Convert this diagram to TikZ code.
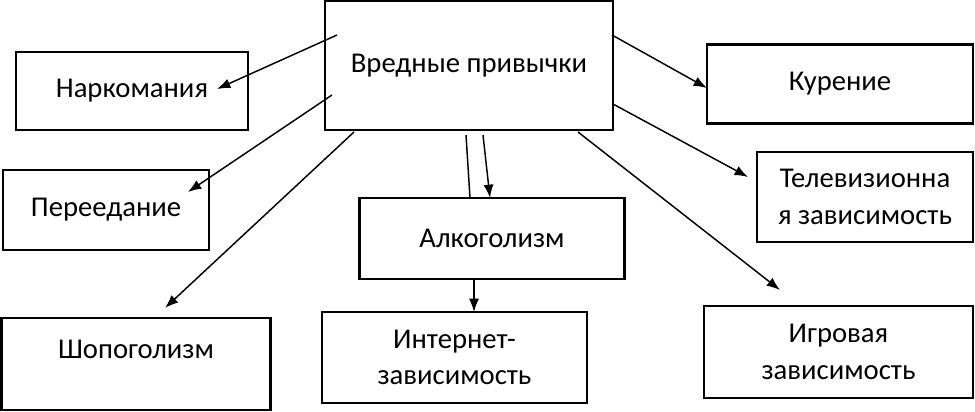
\documentclass[tikz,border=0pt]{standalone}
\usepackage{fontspec}
\setmainfont{Carlito}
\usetikzlibrary{positioning, arrows.meta}

\tikzset{
  box/.style={draw, line width=1.9pt, align=center, inner sep=0pt,
    font=\fontsize{21.5}{27.5}\selectfont},
}

\begin{document}
\begin{tikzpicture}[x=0.75pt, y=-0.75pt, line width=1.1pt,
    >={Latex[length=10pt,width=7.5pt]}, ->]
        \useasboundingbox (0,0) rectangle (975,411);

        \node[box, minimum width=216pt, minimum height=97pt] (vp) at (469,65.5) {Вредные привычки};
        \node[box, minimum width=174pt, minimum height=58.5pt] (n) at (132,91) {Наркомания};
        \node[box, minimum width=154.5pt, minimum height=60pt] (p) at (106,210) {Переедание};
        \node[box, minimum width=202pt, minimum height=69pt] (s) at (136,364) {Шопоголизм\\[-13pt]\strut};
        \node[box, minimum width=199.5pt, minimum height=59pt] (k) at (840,84) {Курение};
        \node[box, minimum width=162pt, minimum height=67.5pt] (t) at (865,197) {Телевизионна\\я зависимость};
        \node[box, minimum width=199pt, minimum height=61pt] (a) at (492,238.5) {Алкоголизм};
        \node[box, minimum width=199pt, minimum height=68pt] (i) at (454.5,357.5) {Интернет-\\зависимость};
        \node[box, minimum width=202pt, minimum height=69pt] (g) at (838.5,352) {Игровая\\зависимость};

        % arrow ends
        \coordinate (vn) at (337,35);   \coordinate (nn) at (217,89);
        \coordinate (vp1) at (332,95);  \coordinate (pp) at (188,192);
        \coordinate (vs) at (354,132);  \coordinate (ss) at (165,308);
        \coordinate (vk) at (612,35);   \coordinate (kk) at (707,88);
        \coordinate (vt) at (613,104);  \coordinate (tt) at (748,177);
        \coordinate (vg) at (578,132);  \coordinate (gg) at (780,290);
        \coordinate (va1) at (466,135); \coordinate (aa1) at (470,198);
        \coordinate (va2) at (483,135); \coordinate (aa2) at (490,198);
        \coordinate (ai) at (474,280);  \coordinate (ii) at (474,312);

        \path (vn) edge (nn);
        \path (vp1) edge (pp);
        \path (vs) edge (ss);
        \path (vk) edge (kk);
        \path (vt) edge (tt);
        \path (vg) edge (gg);
        \path (va1) edge[-] (aa1);
        \path (va2) edge (aa2);
        \path (ai) edge (ii);
    \end{tikzpicture}
\end{document}
